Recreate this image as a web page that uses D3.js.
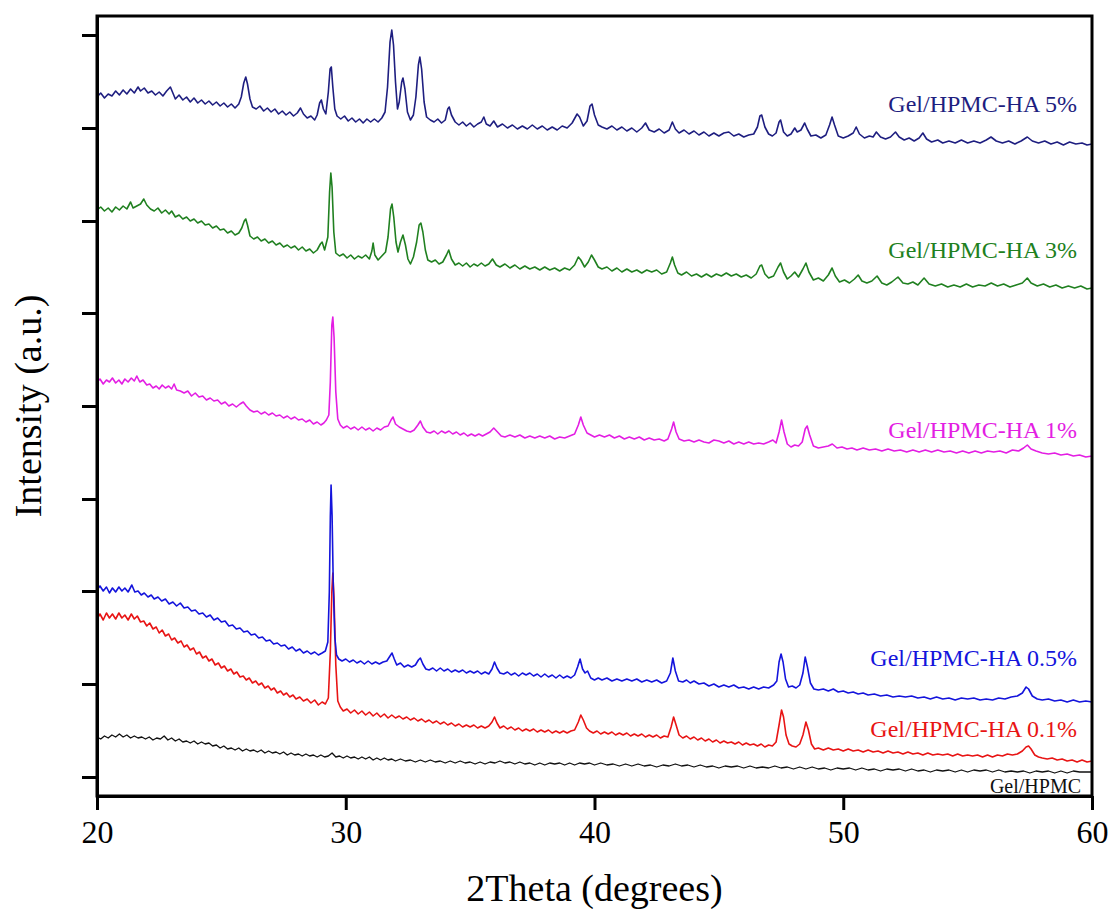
<!DOCTYPE html>
<html>
<head>
<meta charset="utf-8">
<script src="https://cdn.jsdelivr.net/npm/d3@7"></script>
<style>
  body { margin: 0; background: #fff; }
  svg { display: block; }
  text { font-family: "Liberation Serif", "Times New Roman", serif; }
</style>
</head>
<body>
<svg id="chart" width="1111" height="909"></svg>
<script>
// XRD patterns of Gel/HPMC films with increasing HA loading (stacked, offset intensity)
const xTicks = [20, 30, 40, 50, 60];
const yTicks = [0, 93, 186, 278, 371, 464, 556, 649, 742];

const seriesNames = ["Gel/HPMC-HA 5%", "Gel/HPMC-HA 3%", "Gel/HPMC-HA 1%",
                     "Gel/HPMC-HA 0.5%", "Gel/HPMC-HA 0.1%", "Gel/HPMC"];
const seriesColors = ["#1e1e80", "#208020", "#e31ee3", "#1414dc", "#e81414", "#111111"];

// [2θ (deg), intensity (a.u., offset)]
const ha5 = [[20.0,680],[20.15,684],[20.3,679],[20.45,683],[20.6,681],[20.75,686],[20.9,682],[21.05,687],[21.2,683],[21.35,688],[21.5,684],[21.65,690],[21.75,686],[21.9,689],[22.05,684],[22.2,686],[22.35,682],[22.5,685],[22.65,681],[22.8,686],[22.95,690],[23.05,684],[23.15,678],[23.3,682],[23.45,677],[23.6,680],[23.75,675],[23.9,679],[24.05,674],[24.2,677],[24.35,673],[24.5,676],[24.65,672],[24.8,675],[24.95,671],[25.1,674],[25.25,670],[25.4,673],[25.55,669],[25.7,673],[25.8,680],[25.9,694],[25.98,700],[26.05,693],[26.15,678],[26.25,670],[26.4,668],[26.55,671],[26.7,666],[26.85,669],[27.0,665],[27.15,668],[27.3,663],[27.45,666],[27.6,662],[27.75,665],[27.9,661],[28.05,664],[28.18,669],[28.3,663],[28.45,659],[28.6,661],[28.75,657],[28.85,662],[28.95,674],[29.02,677],[29.1,668],[29.2,663],[29.3,685],[29.37,708],[29.42,710],[29.48,690],[29.56,668],[29.65,661],[29.8,658],[29.95,661],[30.1,656],[30.25,659],[30.4,655],[30.55,658],[30.7,654],[30.85,658],[31.0,655],[31.15,658],[31.3,655],[31.45,659],[31.58,665],[31.68,690],[31.78,735],[31.85,747],[31.92,732],[32.0,695],[32.08,668],[32.15,675],[32.25,695],[32.3,699],[32.38,688],[32.48,665],[32.6,657],[32.72,662],[32.82,680],[32.92,712],[32.98,720],[33.05,708],[33.15,675],[33.25,660],[33.4,657],[33.55,655],[33.7,658],[33.85,654],[34.0,657],[34.1,668],[34.16,670],[34.25,662],[34.4,655],[34.55,652],[34.7,655],[34.85,651],[35.0,654],[35.15,650],[35.3,653],[35.45,655],[35.55,660],[35.65,653],[35.8,651],[35.95,656],[36.1,650],[36.3,653],[36.5,649],[36.7,652],[36.9,648],[37.1,651],[37.3,648],[37.5,652],[37.7,648],[37.9,651],[38.1,647],[38.3,650],[38.5,647],[38.7,651],[38.9,649],[39.1,654],[39.3,663],[39.4,660],[39.55,651],[39.7,656],[39.82,671],[39.9,673],[40.0,662],[40.15,652],[40.3,650],[40.5,648],[40.7,651],[40.9,647],[41.1,650],[41.3,646],[41.5,649],[41.7,645],[41.9,649],[42.05,654],[42.2,647],[42.4,645],[42.6,648],[42.8,644],[43.0,647],[43.13,655],[43.25,648],[43.4,644],[43.6,647],[43.8,643],[44.0,646],[44.2,642],[44.4,645],[44.6,641],[44.8,644],[45.0,641],[45.2,644],[45.4,645],[45.6,641],[45.8,643],[46.0,640],[46.2,642],[46.4,643],[46.55,650],[46.65,661],[46.72,662],[46.85,650],[47.0,643],[47.15,641],[47.3,644],[47.42,655],[47.48,657],[47.6,645],[47.75,641],[47.9,643],[48.05,649],[48.15,645],[48.3,647],[48.45,654],[48.55,648],[48.7,641],[48.9,642],[49.1,639],[49.3,642],[49.45,652],[49.55,660],[49.65,652],[49.8,641],[50.0,639],[50.2,641],[50.4,644],[50.52,650],[50.65,643],[50.85,639],[51.05,641],[51.2,640],[51.33,645],[51.5,640],[51.7,638],[51.9,640],[52.1,645],[52.25,640],[52.45,637],[52.65,639],[52.85,636],[53.05,639],[53.2,644],[53.35,638],[53.55,635],[53.8,637],[54.0,634],[54.25,636],[54.5,634],[54.75,637],[55.0,634],[55.25,636],[55.5,634],[55.75,637],[55.94,640],[56.15,636],[56.4,634],[56.65,636],[56.9,633],[57.15,636],[57.4,640],[57.6,636],[57.85,634],[58.1,636],[58.35,633],[58.6,635],[58.85,632],[59.1,635],[59.35,633],[59.6,634],[59.8,632],[60.0,633]];

const ha3 = [[20.0,567],[20.15,570],[20.3,566],[20.45,569],[20.6,565],[20.75,570],[20.9,567],[21.05,571],[21.2,568],[21.35,575],[21.45,569],[21.6,571],[21.75,573],[21.88,578],[22.0,572],[22.15,568],[22.3,566],[22.45,569],[22.6,564],[22.75,567],[22.9,563],[23.0,566],[23.15,560],[23.3,562],[23.45,558],[23.6,560],[23.75,556],[23.9,558],[24.05,554],[24.2,556],[24.35,552],[24.5,553],[24.65,549],[24.8,551],[24.95,547],[25.1,548],[25.25,544],[25.4,546],[25.55,542],[25.7,544],[25.82,549],[25.92,556],[25.98,558],[26.05,552],[26.15,541],[26.3,538],[26.45,540],[26.6,536],[26.75,538],[26.9,534],[27.05,536],[27.2,532],[27.35,534],[27.5,530],[27.65,532],[27.8,529],[27.95,531],[28.1,527],[28.25,530],[28.4,526],[28.55,528],[28.7,524],[28.85,527],[28.98,533],[29.05,535],[29.15,527],[29.28,540],[29.35,585],[29.4,604],[29.45,590],[29.52,545],[29.6,524],[29.75,521],[29.9,523],[30.05,519],[30.2,522],[30.35,518],[30.5,521],[30.65,519],[30.8,522],[30.95,518],[31.05,526],[31.1,534],[31.17,522],[31.3,517],[31.45,521],[31.6,525],[31.7,540],[31.8,568],[31.86,573],[31.93,560],[32.02,535],[32.1,525],[32.2,535],[32.3,542],[32.4,532],[32.5,518],[32.6,513],[32.72,520],[32.85,535],[32.95,552],[33.02,554],[33.1,545],[33.2,527],[33.3,517],[33.45,515],[33.6,517],[33.75,513],[33.9,515],[34.05,522],[34.14,527],[34.25,518],[34.4,512],[34.55,514],[34.7,511],[34.85,514],[35.0,510],[35.15,513],[35.3,511],[35.45,514],[35.6,511],[35.75,513],[35.9,518],[36.05,512],[36.2,510],[36.4,513],[36.6,509],[36.8,512],[37.0,508],[37.2,511],[37.4,508],[37.6,510],[37.8,507],[38.0,510],[38.2,507],[38.4,509],[38.6,506],[38.8,509],[39.0,507],[39.2,512],[39.35,520],[39.45,517],[39.6,510],[39.75,515],[39.88,522],[40.0,517],[40.15,510],[40.3,508],[40.5,510],[40.7,506],[40.9,509],[41.1,505],[41.3,508],[41.5,505],[41.7,507],[41.9,504],[42.1,507],[42.3,505],[42.5,507],[42.7,503],[42.9,505],[43.05,514],[43.13,520],[43.22,512],[43.35,504],[43.5,502],[43.7,505],[43.9,501],[44.1,503],[44.3,500],[44.5,503],[44.7,500],[44.9,503],[45.1,501],[45.3,504],[45.5,501],[45.7,503],[45.9,500],[46.1,502],[46.3,499],[46.5,503],[46.65,511],[46.72,512],[46.85,503],[47.0,499],[47.2,501],[47.38,510],[47.48,514],[47.6,505],[47.75,498],[47.9,501],[48.05,505],[48.2,500],[48.38,508],[48.5,514],[48.62,505],[48.8,497],[49.0,499],[49.2,496],[49.4,502],[49.55,509],[49.68,501],[49.85,495],[50.05,497],[50.25,494],[50.45,498],[50.6,502],[50.75,496],[50.95,494],[51.15,496],[51.36,501],[51.55,494],[51.75,492],[51.95,495],[52.2,500],[52.4,494],[52.6,493],[52.8,495],[53.0,492],[53.25,499],[53.45,493],[53.7,491],[53.95,493],[54.2,490],[54.45,492],[54.7,490],[54.95,493],[55.2,490],[55.45,492],[55.7,491],[55.95,494],[56.2,491],[56.45,493],[56.7,490],[56.95,492],[57.2,494],[57.4,499],[57.55,494],[57.8,491],[58.05,493],[58.3,490],[58.55,492],[58.8,489],[59.05,491],[59.3,489],[59.55,491],[59.8,488],[60.0,489]];

const ha1 = [[20.0,395],[20.12,398],[20.25,393],[20.38,397],[20.5,395],[20.62,399],[20.75,394],[20.88,397],[21.0,393],[21.12,398],[21.25,395],[21.38,399],[21.5,396],[21.6,401],[21.72,395],[21.85,397],[22.0,392],[22.12,393],[22.25,389],[22.38,391],[22.5,388],[22.62,392],[22.75,389],[22.88,391],[23.0,388],[23.1,393],[23.2,387],[23.35,386],[23.5,384],[23.65,386],[23.8,381],[23.95,384],[24.1,380],[24.25,381],[24.4,377],[24.55,379],[24.7,376],[24.85,377],[25.0,373],[25.15,375],[25.3,371],[25.45,373],[25.6,370],[25.75,373],[25.88,375],[26.0,371],[26.15,367],[26.3,365],[26.45,366],[26.6,363],[26.75,365],[26.9,362],[27.05,364],[27.2,361],[27.35,362],[27.5,359],[27.65,361],[27.8,358],[27.95,360],[28.1,357],[28.25,358],[28.4,355],[28.55,357],[28.7,353],[28.85,355],[29.0,352],[29.12,354],[29.22,357],[29.32,362],[29.38,395],[29.44,452],[29.48,460],[29.53,440],[29.6,385],[29.68,358],[29.78,352],[29.9,349],[30.05,351],[30.2,348],[30.35,350],[30.5,347],[30.65,350],[30.8,347],[30.95,349],[31.1,346],[31.25,349],[31.4,347],[31.55,350],[31.7,351],[31.82,357],[31.9,360],[32.0,353],[32.15,350],[32.3,348],[32.45,346],[32.6,345],[32.75,347],[32.9,352],[33.0,356],[33.1,350],[33.25,345],[33.4,344],[33.55,346],[33.7,343],[33.85,346],[34.0,344],[34.15,346],[34.3,343],[34.45,345],[34.6,342],[34.75,344],[34.9,341],[35.05,343],[35.2,341],[35.35,343],[35.5,341],[35.65,343],[35.8,345],[35.95,349],[36.1,345],[36.25,341],[36.4,340],[36.6,342],[36.8,340],[37.0,342],[37.2,339],[37.4,341],[37.6,339],[37.8,341],[38.0,339],[38.2,341],[38.4,338],[38.6,340],[38.8,339],[39.0,341],[39.2,343],[39.35,352],[39.45,360],[39.55,352],[39.7,344],[39.85,342],[40.0,340],[40.2,342],[40.4,340],[40.6,342],[40.8,339],[41.0,341],[41.2,338],[41.4,340],[41.6,338],[41.8,340],[42.0,337],[42.2,339],[42.4,337],[42.6,338],[42.8,336],[42.95,338],[43.1,348],[43.18,355],[43.28,345],[43.4,338],[43.6,336],[43.8,337],[44.0,335],[44.2,337],[44.4,335],[44.6,334],[44.8,337],[45.0,336],[45.2,334],[45.4,336],[45.6,333],[45.8,335],[46.0,333],[46.2,335],[46.4,333],[46.6,334],[46.8,333],[47.0,335],[47.17,337],[47.3,334],[47.42,345],[47.52,357],[47.62,345],[47.75,333],[47.9,330],[48.05,332],[48.2,331],[48.35,335],[48.47,348],[48.55,351],[48.65,342],[48.8,331],[49.0,329],[49.2,330],[49.4,331],[49.56,333],[49.75,329],[49.95,330],[50.15,328],[50.35,329],[50.55,327],[50.8,329],[51.05,327],[51.3,328],[51.55,326],[51.8,328],[52.05,326],[52.3,327],[52.55,325],[52.8,327],[53.05,325],[53.3,327],[53.55,325],[53.8,327],[54.05,325],[54.3,326],[54.55,324],[54.8,326],[55.05,324],[55.3,326],[55.55,324],[55.8,326],[56.05,325],[56.3,326],[56.55,324],[56.8,327],[57.05,326],[57.25,329],[57.4,332],[57.55,328],[57.75,326],[58.0,324],[58.25,323],[58.5,324],[58.75,322],[59.0,323],[59.25,321],[59.5,322],[59.75,320],[60.0,321]];

const ha05 = [[20.0,187],[20.12,191],[20.25,186],[20.38,190],[20.5,184],[20.62,189],[20.75,185],[20.88,190],[21.0,186],[21.12,189],[21.25,185],[21.4,192],[21.52,185],[21.65,186],[21.78,182],[21.9,184],[22.05,180],[22.18,182],[22.3,178],[22.45,180],[22.6,176],[22.75,178],[22.9,173],[23.05,175],[23.2,171],[23.35,174],[23.5,169],[23.65,170],[23.8,166],[23.95,167],[24.1,163],[24.25,164],[24.4,160],[24.55,162],[24.7,157],[24.85,159],[25.0,155],[25.15,156],[25.3,151],[25.45,152],[25.6,148],[25.75,149],[25.9,145],[26.05,146],[26.2,142],[26.35,143],[26.5,139],[26.65,140],[26.8,136],[26.95,137],[27.1,133],[27.25,134],[27.4,131],[27.55,132],[27.7,128],[27.85,130],[28.0,126],[28.15,128],[28.3,124],[28.45,126],[28.6,123],[28.75,125],[28.9,122],[29.05,124],[29.18,126],[29.28,135],[29.34,185],[29.38,260],[29.41,292],[29.45,262],[29.5,190],[29.56,140],[29.63,122],[29.72,118],[29.85,116],[30.0,118],[30.15,115],[30.3,117],[30.45,114],[30.6,116],[30.75,113],[30.9,116],[31.05,113],[31.2,115],[31.35,113],[31.5,115],[31.65,116],[31.78,121],[31.86,124],[31.95,118],[32.05,112],[32.2,114],[32.35,110],[32.5,112],[32.65,110],[32.8,112],[32.92,117],[33.0,119],[33.1,113],[33.22,108],[33.35,107],[33.5,109],[33.65,106],[33.8,109],[33.95,106],[34.1,108],[34.25,105],[34.4,107],[34.55,105],[34.7,107],[34.85,104],[35.0,106],[35.15,104],[35.3,106],[35.45,103],[35.6,105],[35.75,103],[35.88,108],[35.98,115],[36.08,109],[36.2,104],[36.35,103],[36.5,105],[36.65,102],[36.8,104],[36.95,101],[37.1,104],[37.25,102],[37.4,104],[37.55,101],[37.7,103],[37.85,100],[38.0,103],[38.15,100],[38.3,102],[38.45,99],[38.6,102],[38.75,99],[38.9,101],[39.05,99],[39.2,102],[39.32,110],[39.42,118],[39.52,108],[39.62,104],[39.72,106],[39.85,99],[40.0,97],[40.15,99],[40.3,97],[40.5,99],[40.7,96],[40.9,98],[41.1,96],[41.3,98],[41.5,96],[41.7,98],[41.9,95],[42.1,97],[42.3,95],[42.5,97],[42.7,94],[42.9,96],[43.05,104],[43.15,119],[43.25,106],[43.38,96],[43.55,95],[43.7,97],[43.85,94],[44.0,96],[44.2,93],[44.4,94],[44.6,91],[44.8,93],[45.0,90],[45.2,92],[45.4,90],[45.6,92],[45.8,89],[46.0,90],[46.2,88],[46.4,90],[46.6,88],[46.8,90],[47.0,89],[47.2,92],[47.33,96],[47.42,115],[47.5,123],[47.58,115],[47.68,98],[47.8,90],[47.95,91],[48.1,89],[48.25,92],[48.38,104],[48.47,120],[48.56,110],[48.68,94],[48.82,88],[49.0,87],[49.2,88],[49.4,86],[49.6,88],[49.8,85],[50.0,86],[50.2,84],[50.4,85],[50.6,83],[50.8,84],[51.0,82],[51.25,83],[51.5,81],[51.75,82],[52.0,80],[52.25,81],[52.5,80],[52.75,81],[53.0,79],[53.25,80],[53.5,78],[53.75,80],[54.0,78],[54.25,79],[54.5,77],[54.75,79],[55.0,78],[55.25,79],[55.5,77],[55.75,78],[56.0,77],[56.25,79],[56.5,78],[56.75,80],[57.0,81],[57.2,84],[57.35,90],[57.45,88],[57.6,81],[57.8,78],[58.0,77],[58.25,78],[58.5,76],[58.75,77],[59.0,75],[59.25,77],[59.5,75],[59.75,76],[60.0,75]];

const ha01 = [[20.0,158],[20.12,163],[20.25,157],[20.38,164],[20.5,159],[20.62,163],[20.75,158],[20.88,164],[21.0,159],[21.12,162],[21.25,157],[21.38,163],[21.5,158],[21.62,161],[21.75,155],[21.88,156],[22.0,151],[22.12,154],[22.25,148],[22.38,150],[22.5,144],[22.62,147],[22.75,141],[22.88,143],[23.0,137],[23.12,139],[23.25,134],[23.38,136],[23.5,130],[23.62,132],[23.75,127],[23.88,129],[24.0,123],[24.12,125],[24.25,119],[24.38,121],[24.5,116],[24.62,118],[24.75,112],[24.88,114],[25.0,109],[25.12,111],[25.25,106],[25.38,108],[25.5,103],[25.62,105],[25.75,100],[25.88,101],[26.0,97],[26.12,99],[26.25,94],[26.38,96],[26.5,92],[26.62,94],[26.75,89],[26.88,91],[27.0,87],[27.12,89],[27.25,84],[27.38,86],[27.5,82],[27.62,84],[27.75,80],[27.88,82],[28.0,78],[28.15,80],[28.3,76],[28.45,78],[28.6,74],[28.75,77],[28.9,72],[29.05,75],[29.18,73],[29.3,79],[29.38,125],[29.44,185],[29.48,204],[29.53,178],[29.6,112],[29.68,76],[29.78,70],[29.9,66],[30.05,68],[30.2,64],[30.35,67],[30.5,63],[30.65,66],[30.8,62],[30.95,65],[31.1,61],[31.25,64],[31.4,60],[31.55,63],[31.7,59],[31.85,62],[32.0,59],[32.15,61],[32.3,58],[32.45,60],[32.6,57],[32.75,59],[32.9,56],[33.05,58],[33.2,55],[33.35,57],[33.5,54],[33.65,56],[33.8,53],[33.95,55],[34.1,52],[34.25,54],[34.4,51],[34.55,53],[34.7,50],[34.85,52],[35.0,50],[35.15,52],[35.3,49],[35.45,51],[35.6,49],[35.75,51],[35.88,55],[35.98,60],[36.08,54],[36.2,49],[36.35,51],[36.5,48],[36.65,50],[36.8,47],[36.95,49],[37.1,46],[37.25,48],[37.4,46],[37.55,48],[37.7,45],[37.85,47],[38.0,45],[38.15,47],[38.3,44],[38.45,46],[38.6,44],[38.75,46],[38.9,44],[39.05,46],[39.2,47],[39.35,55],[39.45,62],[39.55,57],[39.68,49],[39.8,46],[39.95,44],[40.1,46],[40.25,43],[40.4,45],[40.55,43],[40.7,45],[40.85,42],[41.0,44],[41.15,42],[41.3,44],[41.45,41],[41.6,43],[41.75,41],[41.9,43],[42.05,40],[42.2,42],[42.35,40],[42.5,42],[42.65,39],[42.8,41],[42.95,40],[43.08,50],[43.18,60],[43.28,52],[43.4,42],[43.55,39],[43.7,41],[43.85,38],[44.0,40],[44.15,37],[44.3,39],[44.45,36],[44.6,38],[44.75,35],[44.9,37],[45.05,34],[45.2,36],[45.35,34],[45.5,35],[45.65,33],[45.8,35],[45.95,32],[46.1,34],[46.25,32],[46.4,33],[46.55,31],[46.7,33],[46.85,30],[47.0,32],[47.15,31],[47.3,35],[47.42,52],[47.52,67],[47.6,60],[47.7,42],[47.82,33],[47.95,31],[48.1,30],[48.25,33],[48.38,42],[48.5,55],[48.6,47],[48.72,33],[48.85,28],[49.0,29],[49.2,27],[49.4,29],[49.6,27],[49.8,28],[50.0,26],[50.2,28],[50.4,26],[50.6,27],[50.8,25],[51.0,27],[51.2,25],[51.4,26],[51.6,24],[51.8,26],[52.0,24],[52.2,25],[52.4,23],[52.6,25],[52.8,23],[53.0,24],[53.2,22],[53.4,24],[53.6,22],[53.8,23],[54.0,22],[54.2,23],[54.4,21],[54.6,23],[54.8,21],[55.0,22],[55.2,21],[55.4,22],[55.6,20],[55.8,22],[56.0,20],[56.2,22],[56.4,21],[56.6,23],[56.8,22],[57.0,23],[57.2,26],[57.35,30],[57.45,31],[57.55,28],[57.7,22],[57.85,20],[58.0,19],[58.2,18],[58.4,19],[58.6,17],[58.8,18],[59.0,16],[59.2,17],[59.4,15],[59.6,17],[59.8,15],[60.0,16]];

const gelHpmc = [[20.0,40],[20.15,38],[20.3,41],[20.45,39],[20.6,42],[20.75,40],[20.9,43],[21.05,40],[21.2,42],[21.35,39],[21.5,41],[21.65,39],[21.8,40],[21.95,38],[22.1,40],[22.25,37],[22.4,39],[22.55,38],[22.7,41],[22.85,37],[23.0,39],[23.15,36],[23.3,38],[23.45,35],[23.6,36],[23.75,34],[23.9,36],[24.05,33],[24.2,35],[24.35,33],[24.5,34],[24.65,31],[24.8,32],[24.95,29],[25.1,31],[25.25,28],[25.4,29],[25.55,27],[25.7,29],[25.85,26],[26.0,28],[26.15,26],[26.3,27],[26.45,25],[26.6,27],[26.75,24],[26.9,26],[27.05,24],[27.2,25],[27.35,23],[27.5,25],[27.65,22],[27.8,24],[27.95,22],[28.1,23],[28.25,21],[28.4,23],[28.55,21],[28.7,22],[28.85,20],[29.0,22],[29.15,20],[29.3,21],[29.45,24],[29.6,20],[29.75,21],[29.9,19],[30.05,21],[30.2,19],[30.35,20],[30.5,18],[30.65,20],[30.8,18],[30.95,20],[31.1,17],[31.25,19],[31.4,17],[31.55,19],[31.7,17],[31.85,18],[32.0,16],[32.2,18],[32.4,16],[32.6,17],[32.8,15],[33.0,17],[33.2,15],[33.4,17],[33.6,15],[33.8,16],[34.0,14],[34.2,16],[34.4,14],[34.6,16],[34.8,14],[35.0,15],[35.2,13],[35.4,15],[35.6,13],[35.8,15],[36.0,14],[36.2,16],[36.4,14],[36.6,15],[36.8,13],[37.0,15],[37.2,13],[37.4,14],[37.6,12],[37.8,14],[38.0,12],[38.2,14],[38.4,13],[38.6,14],[38.8,12],[39.0,14],[39.2,12],[39.4,14],[39.6,13],[39.8,14],[40.0,12],[40.25,14],[40.5,12],[40.75,13],[41.0,11],[41.25,13],[41.5,11],[41.75,13],[42.0,11],[42.25,12],[42.5,10],[42.75,12],[43.0,11],[43.25,13],[43.5,11],[43.75,12],[44.0,10],[44.25,12],[44.5,10],[44.75,11],[45.0,9],[45.25,11],[45.5,10],[45.75,11],[46.0,9],[46.25,11],[46.5,9],[46.75,10],[47.0,9],[47.25,11],[47.5,9],[47.75,10],[48.0,8],[48.25,10],[48.5,8],[48.75,10],[49.0,8],[49.25,9],[49.5,7],[49.75,9],[50.0,8],[50.25,9],[50.5,7],[50.75,9],[51.0,7],[51.25,8],[51.5,6],[51.75,8],[52.0,7],[52.25,8],[52.5,6],[52.75,8],[53.0,6],[53.25,7],[53.5,5],[53.75,7],[54.0,6],[54.25,7],[54.5,5],[54.75,7],[55.0,5],[55.25,7],[55.5,6],[55.75,7],[56.0,5],[56.25,7],[56.5,5],[56.75,6],[57.0,5],[57.25,6],[57.5,4],[57.75,6],[58.0,5],[58.25,6],[58.5,4],[58.75,6],[59.0,4],[59.25,6],[59.5,5],[59.75,5],[60.0,5]];

const seriesData = [ha5, ha3, ha1, ha05, ha01, gelHpmc];

// ---- layout ----
const svg = d3.select("#chart");
const plotLeft = 97, plotRight = 1092, plotTop = 16, plotBottom = 796;
const serif = "'Liberation Serif','Times New Roman',serif";

const x = d3.scaleLinear().domain([20, 60]).range([plotLeft, plotRight]);
const y = d3.scaleLinear().domain([-19, 761]).range([plotBottom, plotTop]);

// traces
const line = d3.line().x(d => x(d[0])).y(d => y(d[1]));
const traces = svg.append("g");
// draw bottom-most first so upper traces overlay (0.5% over 0.1% at the main peak)
[5, 4, 3, 2, 1, 0].forEach(i => {
  traces.append("path")
    .datum(seriesData[i])
    .attr("fill", "none")
    .attr("stroke", seriesColors[i])
    .attr("stroke-width", i === 5 ? 1.3 : 1.6)
    .attr("stroke-linejoin", "round")
    .attr("d", line);
});

// series labels, right-aligned inside the frame above each trace
const labelLevels = [665, 519, 339, 111, 40, -16];
const labelSizes = [24, 24, 24, 24, 24, 20];
svg.append("g").selectAll("text")
  .data(seriesNames)
  .join("text")
  .attr("x", (d, i) => i === 5 ? x(60) - 11 : x(60) - 15)
  .attr("y", (d, i) => y(labelLevels[i]))
  .attr("text-anchor", "end")
  .attr("font-family", serif)
  .attr("font-size", (d, i) => labelSizes[i])
  .attr("fill", (d, i) => seriesColors[i])
  .text(d => d);

// frame
svg.append("rect")
  .attr("x", plotLeft).attr("y", plotTop)
  .attr("width", plotRight - plotLeft).attr("height", plotBottom - plotTop)
  .attr("fill", "none").attr("stroke", "#000").attr("stroke-width", 3);

// x axis
const xAxis = svg.append("g")
  .attr("transform", `translate(0,${plotBottom})`)
  .call(d3.axisBottom(x).tickValues(xTicks).tickSize(14).tickSizeOuter(0).tickPadding(10));
xAxis.attr("font-family", serif);
xAxis.select(".domain").attr("stroke-width", 3);
xAxis.selectAll(".tick line").attr("stroke-width", 3);
xAxis.selectAll(".tick text")
  .attr("font-size", 32)
  .attr("font-family", serif)
  .attr("fill", "#000");

// y axis (unlabelled ticks)
const yAxis = svg.append("g")
  .attr("transform", `translate(${plotLeft},0)`)
  .call(d3.axisLeft(y).tickValues(yTicks).tickFormat("").tickSize(15).tickSizeOuter(0));
yAxis.select(".domain").attr("stroke-width", 3);
yAxis.selectAll(".tick line").attr("stroke-width", 3);

// axis titles
svg.append("text")
  .attr("x", (plotLeft + plotRight) / 2)
  .attr("y", 901)
  .attr("text-anchor", "middle")
  .attr("font-family", serif)
  .attr("font-size", 38)
  .attr("fill", "#000")
  .text("2Theta (degrees)");

svg.append("text")
  .attr("transform", `translate(41,${(plotTop + plotBottom) / 2}) rotate(-90)`)
  .attr("text-anchor", "middle")
  .attr("font-family", serif)
  .attr("font-size", 38)
  .attr("fill", "#000")
  .text("Intensity (a.u.)");
</script>
</body>
</html>
